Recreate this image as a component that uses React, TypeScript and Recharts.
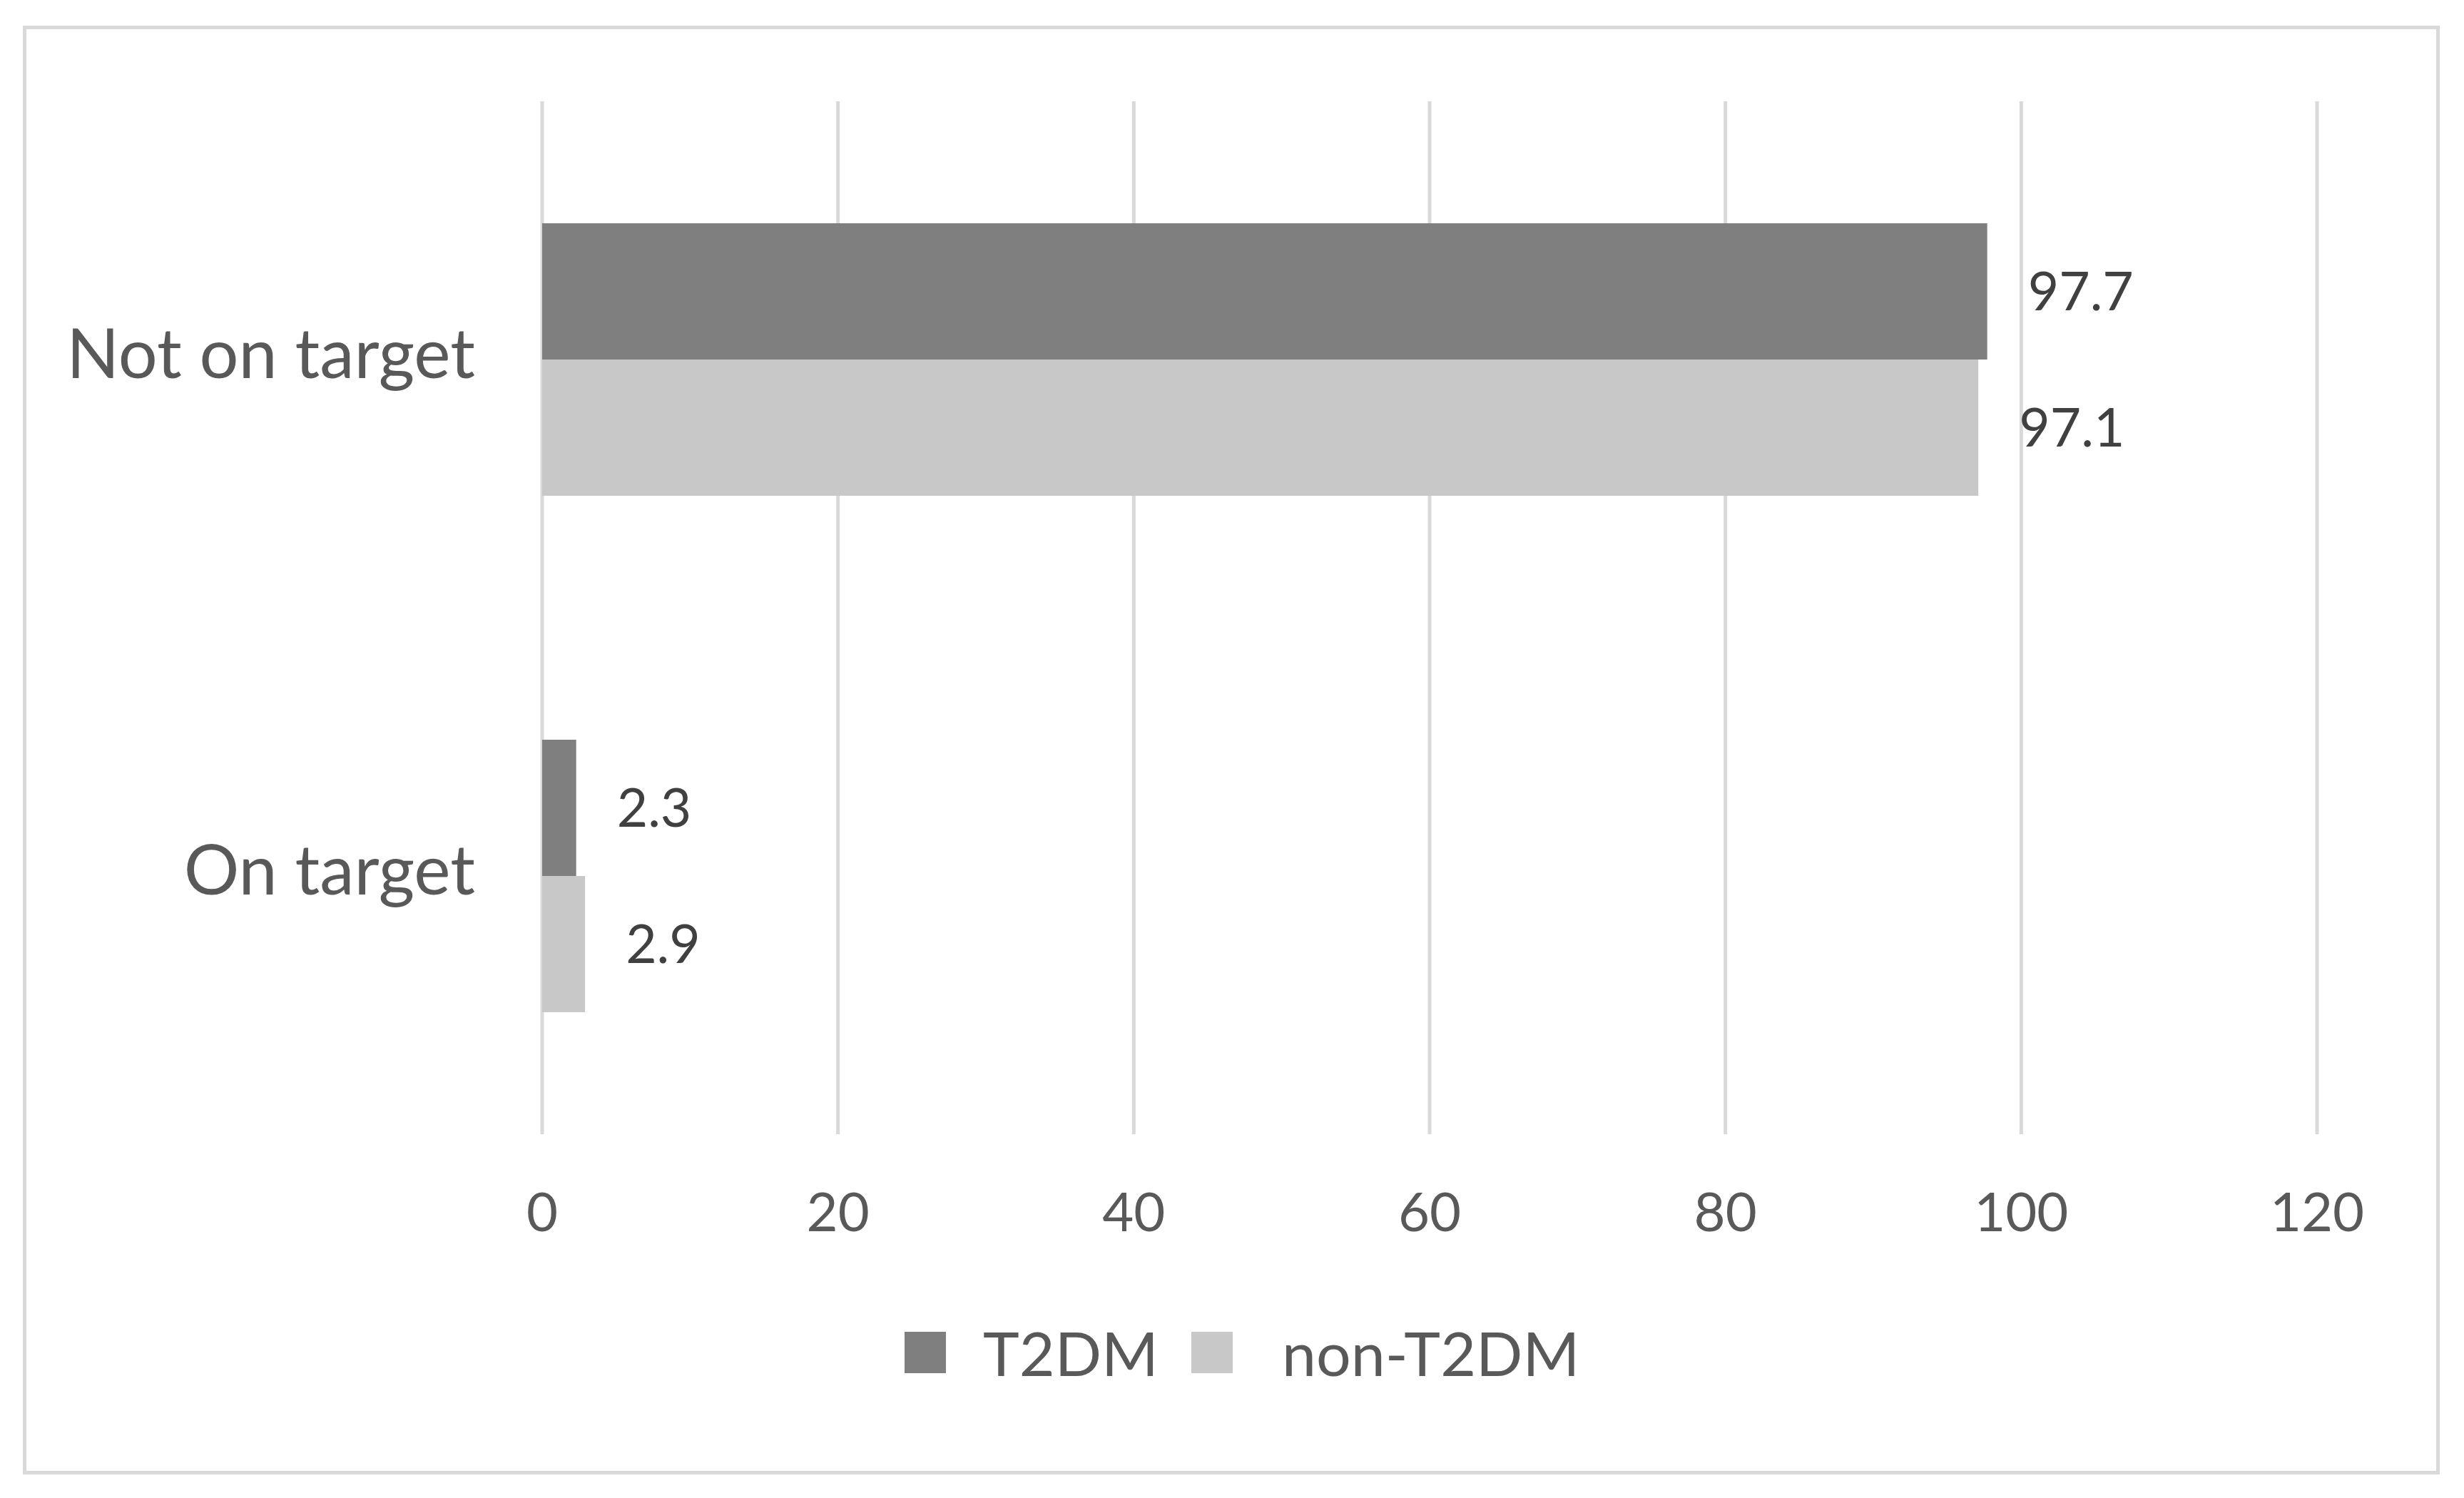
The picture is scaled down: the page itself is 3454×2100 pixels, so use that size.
import { BarChart, Bar, XAxis, YAxis, CartesianGrid, LabelList } from 'recharts';

const categories = ['Not on target', 'On target'];
const t2dm = [97.7, 2.3];
const nonT2dm = [97.1, 2.9];
const xTicks = [0, 20, 40, 60, 80, 100, 120];
const seriesNames = ['T2DM', 'non-T2DM'];
const seriesColors = ['#7f7f7f', '#c8c8c8'];

const data = categories.map((name, i) => ({ name, t2dm: t2dm[i], nonT2dm: nonT2dm[i] }));

const FONT = 'Lato, "Open Sans", sans-serif';

function LegendRow() {
  return (
    <div
      style={{
        position: 'absolute',
        top: 1866,
        left: 1268,
        display: 'flex',
        alignItems: 'center',
        height: 60,
        fontFamily: FONT,
        fontSize: 86,
        color: '#595959',
      }}
    >
      {seriesNames.map((s, i) => (
        <div key={s} style={{ display: 'flex', alignItems: 'center', marginRight: i === 0 ? 46 : 0 }}>
          <div style={{ width: 58, height: 58, background: seriesColors[i], marginRight: i === 0 ? 52 : 69 }} />
          <span style={{ lineHeight: '60px' }}>{s}</span>
        </div>
      ))}
    </div>
  );
}

export default function App() {
  return (
    <div style={{ position: 'absolute', left: 0, top: 0, width: 3454, height: 2100, background: '#fff', fontFamily: FONT }}>
      <div
        style={{
          position: 'absolute',
          left: 32,
          top: 36,
          width: 3388,
          height: 2031,
          border: '5px solid #d9d9d9',
          boxSizing: 'border-box',
        }}
      />
      <div style={{ position: 'absolute', left: 0, top: 0 }}>
        <BarChart
          width={3454}
          height={2100}
          data={data}
          layout="vertical"
          margin={{ top: 142, right: 206, left: 0, bottom: 310 }}
          barGap={0}
          barSize={191}
        >
          <CartesianGrid horizontal={false} stroke="#d9d9d9" strokeWidth={5} />
          <XAxis
            type="number"
            domain={[0, 120]}
            ticks={xTicks}
            axisLine={false}
            tickLine={false}
            tickSize={0}
            tickMargin={82}
            height={200}
            tick={{ fill: '#595959', fontSize: 76, fontFamily: FONT }}
          />
          <YAxis
            type="category"
            dataKey="name"
            width={760}
            axisLine={false}
            tickLine={false}
            tickSize={0}
            tickMargin={94}
            tick={{ fill: '#595959', fontSize: 97, fontFamily: FONT, dy: -8 }}
          />
          <Bar dataKey="t2dm" name={seriesNames[0]} fill={seriesColors[0]} isAnimationActive={false}>
            <LabelList dataKey="t2dm" position="right" offset={57} fill="#404040" fontSize={75} fontFamily={FONT} />
          </Bar>
          <Bar dataKey="nonT2dm" name={seriesNames[1]} fill={seriesColors[1]} isAnimationActive={false}>
            <LabelList dataKey="nonT2dm" position="right" offset={57} fill="#404040" fontSize={75} fontFamily={FONT} />
          </Bar>
        </BarChart>
      </div>
      <LegendRow />
    </div>
  );
}
